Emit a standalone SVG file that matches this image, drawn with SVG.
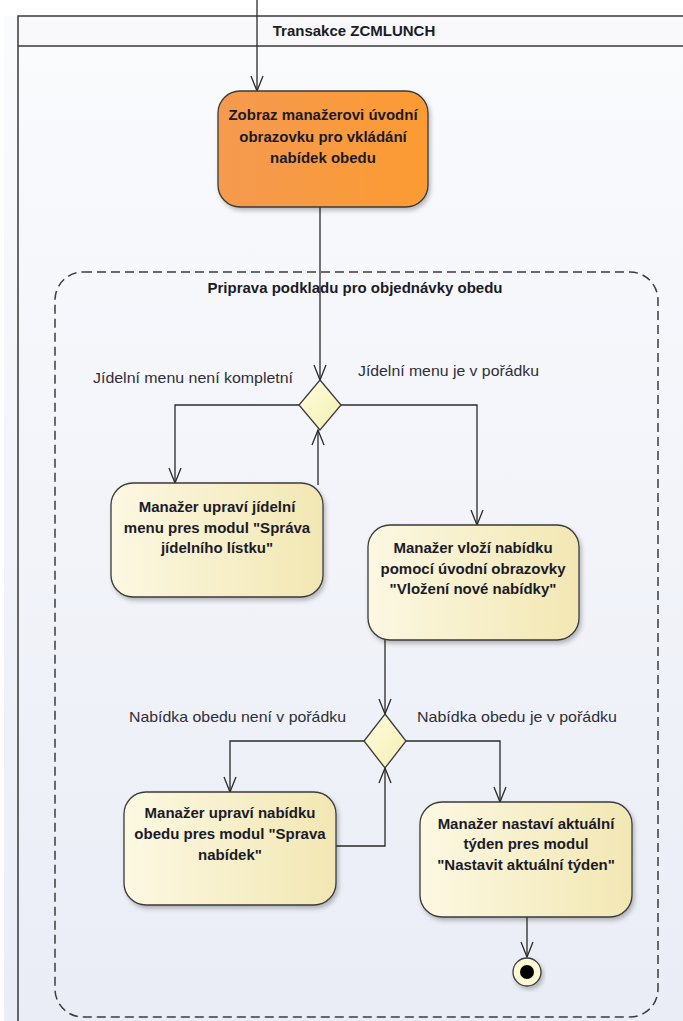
<svg xmlns="http://www.w3.org/2000/svg" width="683" height="1021" viewBox="0 0 683 1021">
  <style>
    .frame { fill: none; stroke: #3a3a3a; stroke-width: 1.5; }
    .region { fill: none; stroke: #3c3c3c; stroke-width: 1.5; stroke-dasharray: 9 5; }
    .act { stroke: #3a3a3a; stroke-width: 1.3; }
    .action { fill: url(#yellowGrad); }
    .start { fill: url(#orangeGrad); }
    .dec { fill: url(#diamondGrad); stroke: #3a3a3a; stroke-width: 1.3; }
    .edge { fill: none; stroke: #2a2a2a; stroke-width: 1.3; marker-end: url(#open); }
    .lbl { font-family: "Liberation Sans", Arial, sans-serif; font-size: 15px; fill: #2e2e3a; }
    .bt { font-family: "Liberation Sans", Arial, sans-serif; font-size: 15px; font-weight: bold; fill: #1b1b28; text-anchor: middle; }
  </style>
  <defs>
    <linearGradient id="bgGrad" x1="0" y1="0" x2="0" y2="1">
      <stop offset="0" stop-color="#fafbfd"/>
      <stop offset="1" stop-color="#eaedf6"/>
    </linearGradient>
    <linearGradient id="yellowGrad" x1="0" y1="0" x2="1" y2="0">
      <stop offset="0" stop-color="#fcf8e2"/>
      <stop offset="1" stop-color="#f2e7b3"/>
    </linearGradient>
    <linearGradient id="orangeGrad" x1="0" y1="0" x2="1" y2="0">
      <stop offset="0" stop-color="#f59a50"/>
      <stop offset="1" stop-color="#fc9b32"/>
    </linearGradient>
    <linearGradient id="diamondGrad" x1="0" y1="0" x2="1" y2="1">
      <stop offset="0" stop-color="#fffde0"/>
      <stop offset="1" stop-color="#f4efb0"/>
    </linearGradient>
    <filter id="shadow" x="-10%" y="-10%" width="125%" height="130%">
      <feDropShadow dx="2" dy="3" stdDeviation="2" flood-color="#000" flood-opacity="0.25"/>
    </filter>
    <marker id="open" viewBox="-16 -8 18 16" refX="0" refY="0" markerWidth="18" markerHeight="16" markerUnits="userSpaceOnUse" orient="auto">
      <path d="M-15,-6 L0,0 L-15,6" fill="none" stroke="#2a2a2a" stroke-width="1.3"/>
    </marker>
  </defs>

  <!-- page background -->
  <rect x="0" y="0" width="683" height="1021" fill="#ffffff"/>
  <rect x="4" y="16" width="679" height="1005" fill="url(#bgGrad)"/>

  <!-- partition frame with header -->
  <g id="partition">
    <rect x="18" y="16" width="680" height="1020" fill="none"/>
    <rect x="18" y="16" width="680" height="30" fill="#f9f9fb"/>
    <path class="frame" d="M18,1021 V16 H690 M18,46 H690"/>
    <text x="354" y="36" class="bt">Transakce ZCMLUNCH</text>
  </g>

  <!-- structured activity region -->
  <g id="region">
    <rect class="region" x="55" y="272" width="603" height="745" rx="28" ry="28"/>
    <text x="355" y="293" class="bt">Priprava podkladu pro objednávky obedu</text>
  </g>

  <!-- connectors -->
  <g id="connectors">
    <path class="edge" d="M257,0 V91"/>
    <path class="edge" d="M320,207 V380"/>
    <path class="edge" d="M299,405 H175 V483"/>
    <path class="edge" d="M341,405 H477 V525"/>
    <path class="edge" d="M318,485 V430"/>
    <path class="edge" d="M385,640 V714"/>
    <path class="edge" d="M364,741 H230 V792"/>
    <path class="edge" d="M406,741 H500 V802"/>
    <path class="edge" d="M336,846 H385 V768"/>
    <path class="edge" d="M527,917 V957"/>
  </g>

  <!-- guard labels -->
  <g id="guards">
    <text class="lbl" x="93" y="383" textLength="200" lengthAdjust="spacingAndGlyphs">Jídelní menu není kompletní</text>
    <text class="lbl" x="358" y="376" textLength="181" lengthAdjust="spacingAndGlyphs">Jídelní menu je v pořádku</text>
    <text class="lbl" x="129" y="722" textLength="217" lengthAdjust="spacingAndGlyphs">Nabídka obedu není v pořádku</text>
    <text class="lbl" x="417" y="722" textLength="200" lengthAdjust="spacingAndGlyphs">Nabídka obedu je v pořádku</text>
  </g>

  <!-- initial action -->
  <g id="show-screen">
    <rect class="start act" x="218" y="91" width="210" height="116" rx="22" ry="22" filter="url(#shadow)"/>
    <text class="bt" x="323" y="120">Zobraz manažerovi úvodní</text>
    <text class="bt" x="323" y="142">obrazovku pro vkládání</text>
    <text class="bt" x="323" y="163">nabídek obedu</text>
  </g>

  <!-- decision: menu check -->
  <g id="menu-decision">
    <polygon class="dec" points="320,380 341,405 320,430 299,405"/>
  </g>

  <g id="edit-menu">
    <rect class="action act" x="111" y="483" width="212" height="114" rx="22" ry="22" filter="url(#shadow)"/>
    <text class="bt" x="217" y="512">Manažer upraví jídelní</text>
    <text class="bt" x="217" y="533">menu pres modul "Správa</text>
    <text class="bt" x="217" y="553">jídelního lístku"</text>
  </g>

  <g id="insert-offer">
    <rect class="action act" x="368" y="525" width="211" height="115" rx="22" ry="22" filter="url(#shadow)"/>
    <text class="bt" x="473" y="553">Manažer vloží nabídku</text>
    <text class="bt" x="473" y="574">pomocí úvodní obrazovky</text>
    <text class="bt" x="473" y="594">"Vložení nové nabídky"</text>
  </g>

  <!-- decision: offer check -->
  <g id="offer-decision">
    <polygon class="dec" points="385,714 406,741 385,768 364,741"/>
  </g>

  <g id="edit-offer">
    <rect class="action act" x="124" y="792" width="212" height="113" rx="22" ry="22" filter="url(#shadow)"/>
    <text class="bt" x="230" y="818">Manažer upraví nabídku</text>
    <text class="bt" x="230" y="839">obedu pres modul "Sprava</text>
    <text class="bt" x="230" y="860">nabídek"</text>
  </g>

  <g id="set-week">
    <rect class="action act" x="420" y="802" width="212" height="115" rx="22" ry="22" filter="url(#shadow)"/>
    <text class="bt" x="526" y="829">Manažer nastaví aktuální</text>
    <text class="bt" x="526" y="849">týden pres modul</text>
    <text class="bt" x="526" y="870">"Nastavit aktuální týden"</text>
  </g>

  <!-- activity final -->
  <g id="final">
    <circle cx="527" cy="972" r="14" fill="#fbf8d2" stroke="#3a3a3a" stroke-width="1.3" filter="url(#shadow)"/>
    <circle cx="527" cy="972" r="7" fill="#000"/>
  </g>
</svg>
